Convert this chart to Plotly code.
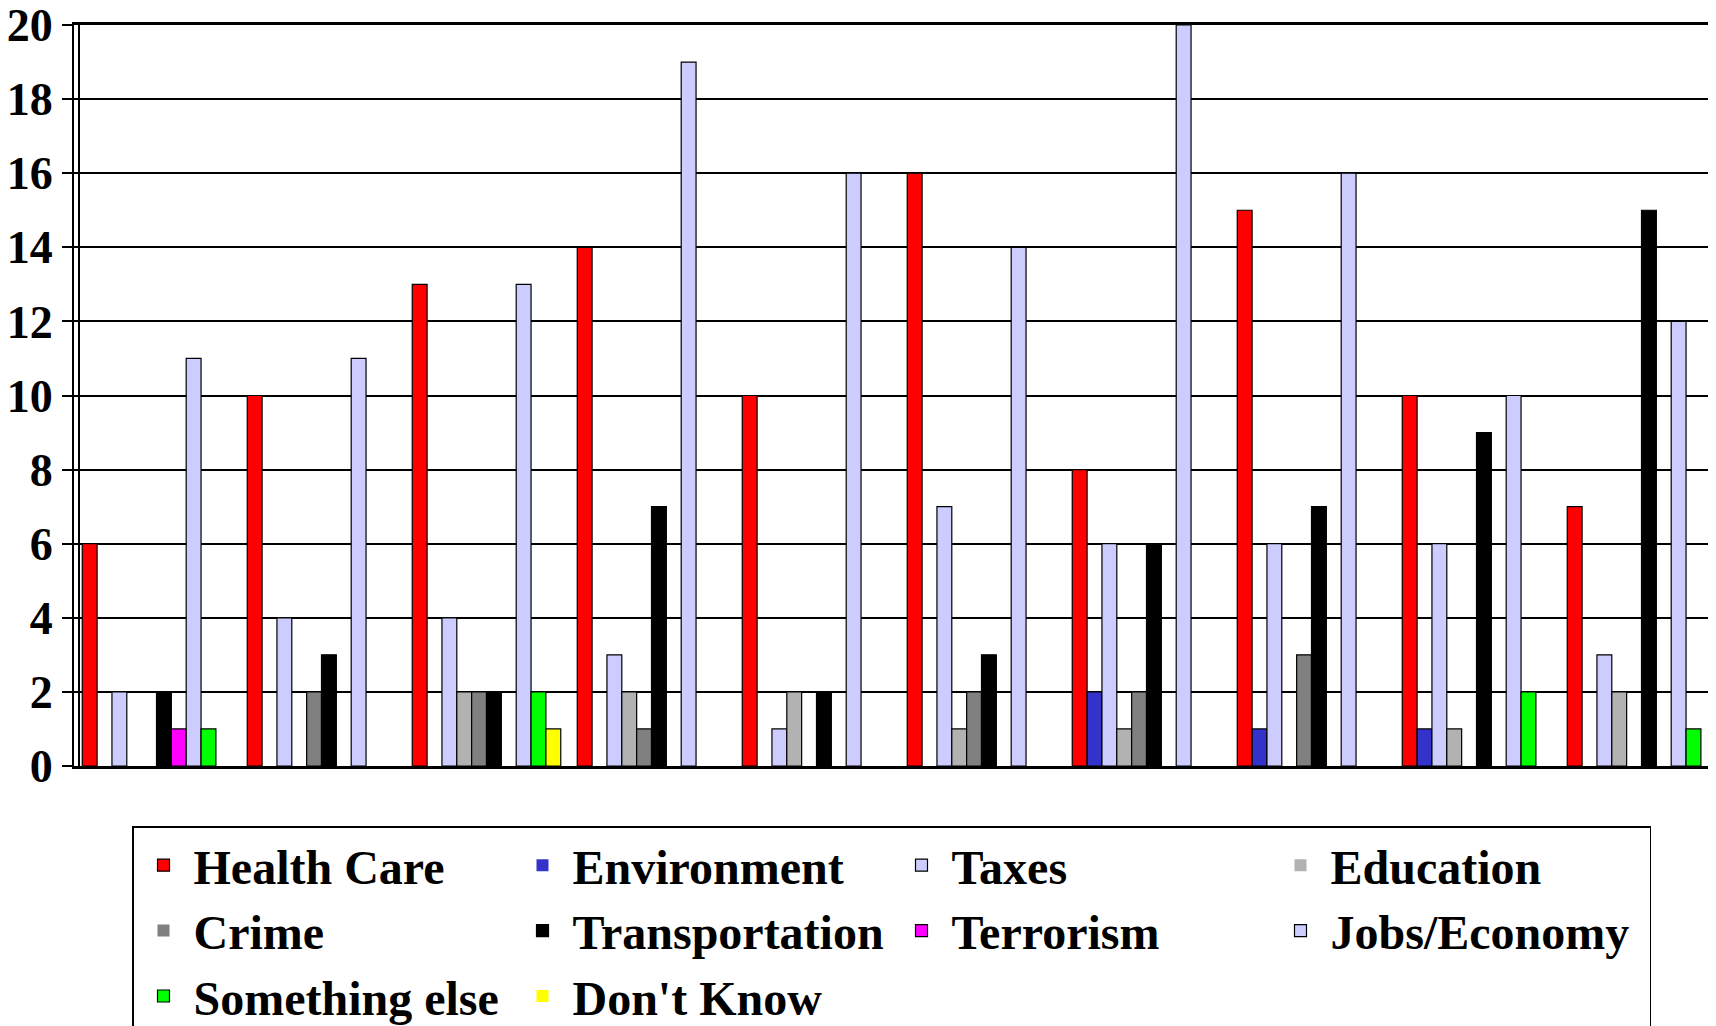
import plotly.graph_objects as go

groups = ["G1", "G2", "G3", "G4", "G5", "G6", "G7", "G8", "G9", "G10"]

health_care    = [6, 10, 13, 14, 10, 16, 8, 15, 10, 7]
environment    = [0, 0, 0, 0, 0, 0, 2, 1, 1, 0]
taxes          = [2, 4, 4, 3, 1, 7, 6, 6, 6, 3]
education      = [0, 0, 2, 2, 2, 1, 1, 0, 1, 2]
crime          = [0, 2, 2, 1, 0, 2, 2, 3, 0, 0]
transportation = [2, 3, 2, 7, 2, 3, 6, 7, 9, 15]
terrorism      = [1, 0, 0, 0, 0, 0, 0, 0, 0, 0]
jobs_economy   = [11, 11, 13, 19, 16, 14, 20, 16, 10, 12]
something_else = [1, 0, 2, 0, 0, 0, 0, 0, 2, 1]
dont_know      = [0, 0, 1, 0, 0, 0, 0, 0, 0, 0]

series_names = ["Health Care", "Environment", "Taxes", "Education", "Crime",
                "Transportation", "Terrorism", "Jobs/Economy", "Something else", "Don't Know"]
series_values = [health_care, environment, taxes, education, crime,
                 transportation, terrorism, jobs_economy, something_else, dont_know]
series_colors = ["#FF0000", "#3333CC", "#CCCCFF", "#B2B2B2", "#808080",
                 "#000000", "#FF00FF", "#CCCCFF", "#00FF00", "#FFFF00"]

y_ticks = [0, 2, 4, 6, 8, 10, 12, 14, 16, 18, 20]

FONT = "Liberation Serif"

fig = go.Figure()
for name, vals, col in zip(series_names, series_values, series_colors):
    fig.add_trace(go.Bar(
        x=groups, y=vals, name=name,
        marker=dict(color=col,
                    line=dict(color="black", width=[1.2 if v > 0 else 0 for v in vals])),
    ))

# page body has an 8px margin: figure occupies 8..1716 x 8..1026 of the window
OFF = 8
W, H = 1716 - OFF, 1026 - OFF
ml, mr, mt = 74 - OFF, 0, 25 - OFF
plot_h = 741
mb = H - mt - plot_h
plot_w = W - ml - mr
group_px = 165.0

fig.update_layout(
    width=W, height=H,
    margin=dict(l=ml, r=mr, t=mt, b=mb, pad=0, autoexpand=False),
    paper_bgcolor="white", plot_bgcolor="white",
    barmode="group", bargap=0.1, bargroupgap=0.0,
    showlegend=True,
    legend=dict(
        orientation="h",
        xref="container", yref="container",
        x=(132 - OFF) / W, xanchor="left",
        y=1 - (826 - OFF) / H, yanchor="top",
        entrywidth=314, entrywidthmode="pixels",
        itemwidth=50,
        bordercolor="black", borderwidth=1.5, bgcolor="white",
        font=dict(family=FONT, size=48, color="black", weight="bold"),
        traceorder="normal",
        tracegroupgap=0,
    ),
    font=dict(family=FONT, color="black"),
)

fig.update_xaxes(
    type="category",
    range=[-0.5, -0.5 + plot_w / group_px],
    showticklabels=False, ticks="",
    showgrid=False, zeroline=False,
    showline=True, linecolor="black", linewidth=2.5, mirror=True,
    automargin=False,
)
fig.update_yaxes(
    range=[0, 20],
    tickvals=y_ticks,
    tickfont=dict(family=FONT, size=46, color="black", weight="bold"),
    ticklabeloverflow="allow",
    ticks="outside", ticklen=10, tickcolor="black", tickwidth=1.5,
    showgrid=True, gridcolor="black", gridwidth=1.5,
    zeroline=False,
    showline=True, linecolor="black", linewidth=2, mirror=False,
    automargin=False,
)

# second line of the double left wall edge
fig.add_shape(type="line", xref="paper", yref="paper",
              x0=5 / plot_w, x1=5 / plot_w, y0=0, y1=1,
              line=dict(color="black", width=2))

fig.write_html("out.html")
